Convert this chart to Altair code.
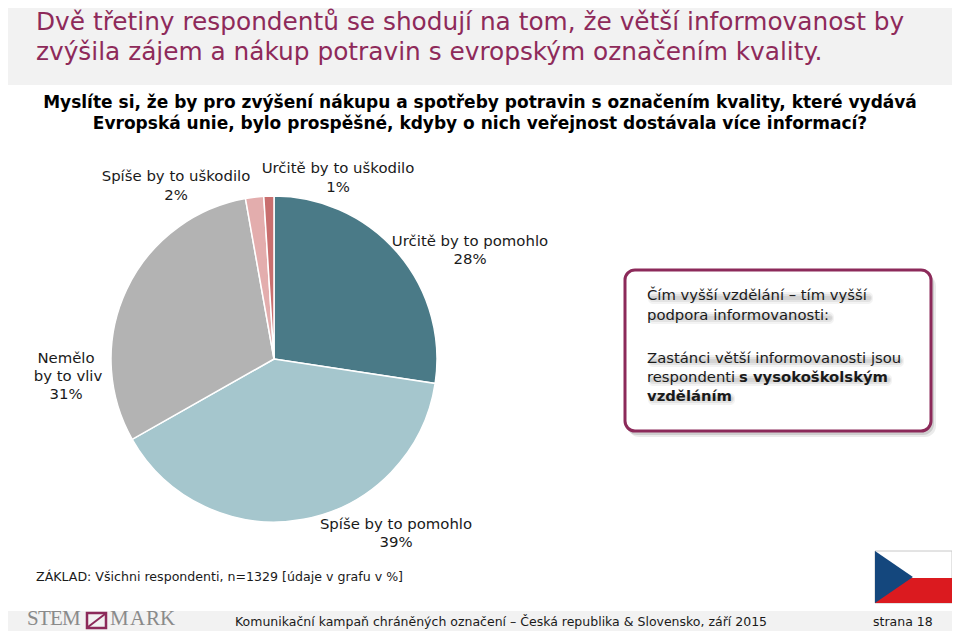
import altair as alt
import pandas as pd

categories = ["Určitě by to pomohlo", "Spíše by to pomohlo", "Nemělo by to vliv", "Spíše by to uškodilo", "Určitě by to uškodilo"]
shares = [27.4, 39.4, 30.4, 1.8, 1.0]
colors = ["#4a7a87", "#a5c6cd", "#b3b3b3", "#e3adad", "#c96f6f"]
order = [1, 2, 3, 4, 5]

FONT = "DejaVu Sans"
W, H = 944, 623
CX, CY, R = 274, 359, 163


def one():
    return pd.DataFrame({"k": [0]})


def rect(x0, y0, x1, y1, fill, **kw):
    return alt.Chart(one()).mark_rect(fill=fill, **kw).encode(
        x=alt.value(x0 - 8), x2=alt.value(x1 - 8), y=alt.value(y0 - 8), y2=alt.value(y1 - 8))


def txt(s, x, y, size=15, color="#1a1a1a", align="left", weight="normal", opacity=1.0, font=FONT):
    return alt.Chart(pd.DataFrame({"t": [s]})).mark_text(
        x=x - 8, y=y - 7, fontSize=size, color=color, align=align, baseline="middle",
        fontWeight=weight, font=font, opacity=opacity).encode(text="t:N")


def glow(x0, x1, y):
    # soft grey band standing in for the blurred shadow of a text line
    return [
        rect(x0 + 1, y - 3, x1 + 4, y + 9, "#555555", cornerRadius=5, opacity=0.07),
        rect(x0 + 2, y - 1, x1 + 3, y + 7, "#555555", cornerRadius=4, opacity=0.1),
        rect(x0 + 3, y + 1, x1 + 2, y + 5, "#555555", cornerRadius=2, opacity=0.1),
    ]


layers = []
layers.append(rect(8, 8, 952, 85, "#f2f2f2"))
layers.append(rect(8, 611, 952, 631, "#f2f2f2"))

title_color = "#8e2a5a"
layers.append(txt("Dvě třetiny respondentů se shodují na tom, že větší informovanost by", 36, 22, 24.8, title_color))
layers.append(txt("zvýšila zájem a nákup potravin s evropským označením kvality.", 36, 52, 24.8, title_color))
layers.append(txt("Myslíte si, že by pro zvýšení nákupu a spotřeby potravin s označením kvality, které vydává", 480, 102, 17, "#000000", "center", "bold"))
layers.append(txt("Evropská unie, bylo prospěšné, kdyby o nich veřejnost dostávala více informací?", 480, 123, 17, "#000000", "center", "bold"))

pie = pd.DataFrame({"category": categories, "value": shares, "o": order})
layers.append(alt.Chart(pie).mark_arc(radius=R, stroke="#ffffff", strokeWidth=1.5).encode(
    x=alt.value(CX - 8), y=alt.value(CY - 8),
    theta=alt.Theta("value:Q", stack=True),
    order=alt.Order("o:Q"),
    color=alt.Color("category:N", scale=alt.Scale(domain=categories, range=colors), legend=None)))

for s, x, y in [
    ("Spíše by to uškodilo", 176, 176), ("2%", 176, 195),
    ("Určitě by to uškodilo", 338, 168), ("1%", 338, 187),
    ("Určitě by to pomohlo", 470, 241), ("28%", 470, 259),
    ("Spíše by to pomohlo", 396, 524), ("39%", 396, 542),
    ("Nemělo", 66, 358), ("by to vliv", 68, 376), ("31%", 66, 394),
]:
    layers.append(txt(s, x, y, 14.9, "#1a1a1a", "center"))

# callout box
layers.append(rect(628, 275, 936, 437, "#000000", cornerRadius=11, opacity=0.08))
layers.append(rect(626, 273, 934, 435, "#000000", cornerRadius=11, opacity=0.12))
layers.append(rect(625, 270, 931, 431, "#ffffff", cornerRadius=10, stroke="#8c2a5a", strokeWidth=3))
for x0, x1, y in [(647, 869, 295), (647, 830, 315), (647, 900, 358), (647, 888, 377), (647, 731, 396)]:
    layers += glow(x0, x1, y)
for s, x, y, w in [
    ("Čím vyšší vzdělání – tím vyšší", 647, 295, "normal"),
    ("podpora informovanosti:", 647, 315, "normal"),
    ("Zastánci větší informovanosti jsou", 647, 358, "normal"),
    ("respondenti", 647, 377, "normal"),
    ("s vysokoškolským", 739, 377, "bold"),
    ("vzděláním", 647, 396, "bold"),
]:
    layers.append(txt(s, x, y, 14.8, "#1a1a1a", weight=w))

layers.append(txt("ZÁKLAD: Všichni respondenti, n=1329 [údaje v grafu v %]", 36, 576, 12.6, "#1a1a1a"))
layers.append(txt("Komunikační kampaň chráněných označení – Česká republika & Slovensko, září 2015", 235, 621, 12.5, "#1a1a1a"))
layers.append(txt("strana 18", 873, 621, 12.5, "#1a1a1a"))

# logo
for ch, x in [("S", 27), ("T", 38), ("E", 50), ("M", 62), ("M", 110), ("A", 130), ("R", 146), ("K", 160)]:
    layers.append(txt(ch, x, 618, 21, "#8a8a8a", font="Liberation Serif"))
layers.append(rect(87, 613, 106, 628, "#f2f2f2", stroke="#8c2a5a", strokeWidth=2.5))
layers.append(alt.Chart(one()).mark_rule(stroke="#8c2a5a", strokeWidth=2).encode(
    x=alt.value(88 - 8), x2=alt.value(105 - 8), y=alt.value(627 - 8), y2=alt.value(614 - 8)))

# flag
layers.append(rect(875, 551, 952, 603, "#ffffff", stroke="#c8c8c8", strokeWidth=1))
layers.append(rect(875, 578, 952, 603, "#db1a1f"))
layers.append(alt.Chart(one()).mark_point(
    x=875 - 8, y=577 - 8, filled=True, opacity=1, color="#14477d", size=104 * 104,
    shape="M0 -0.5 L0.73 0 L0 0.5 Z").encode())

chart = alt.layer(*layers).properties(width=W, height=H, padding=0, autosize=alt.AutoSizeParams(type="none"), background="#ffffff").configure_view(stroke=None)
chart.save("out.html", embed_options={"renderer": "svg", "actions": False})
